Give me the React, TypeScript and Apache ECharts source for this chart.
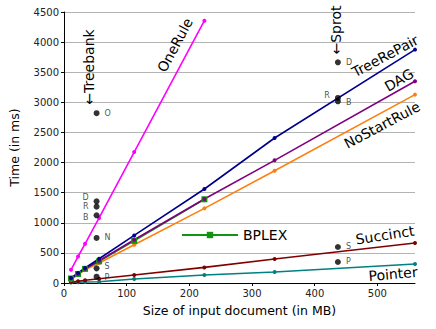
import React, { useEffect, useRef } from "react";
import * as echarts from "echarts";

const sizes = [11.2, 22.4, 33.6, 56, 112, 224, 336, 560];
const oneRule = [220, 440, 650, 1080, 2175, 4355];
const treeRePair = [83, 166, 249, 403, 790, 1561, 2408, 3875];
const dag = [78, 154, 237, 370, 719, 1395, 2037, 3349];
const noStartRule = [55, 138, 220, 332, 636, 1239, 1865, 3128];
const bplex = [75, 150, 235, 360, 700, 1390];
const succinct = [15, 30, 45, 71, 132, 259, 398, 664];
const pointer = [8, 12, 16, 22, 66, 132, 182, 315];

const treebankSize = 52;
const treebankTimes = [2820, 1356, 1268, 1124, 748, 243, 105];
const treebankLabels = ["O", "D", "R", "B", "N", "S", "P"];
const treebankSides = ["right", "left", "left", "left", "right", "right", "right"];
const treebankNudge = [0, -4, 0, 2, 0, -2, 1];

const sprotSize = 437;
const sprotTimes = [3665, 3073, 3017, 598, 349];
const sprotLabels = ["D", "R", "B", "S", "P"];
const sprotSides = ["right", "left", "right", "right", "right"];
const sprotNudge = [0, -2, 1, 0, 0];

const xTicks = [0, 100, 200, 300, 400, 500];

const FONT = "DejaVu Sans";

function pairs(xs: number[], ys: number[]) {
  return ys.map((y, i) => [xs[i], y]);
}

function lineSeries(name: string, values: number[], color: string, symbol = "circle", size = 4) {
  return {
    name,
    type: "line",
    data: pairs(sizes, values),
    symbol,
    symbolSize: size,
    lineStyle: { color, width: 1.6 },
    itemStyle: { color },
    z: 3,
  };
}

function scatterSeries(
  name: string,
  x: number,
  ys: number[],
  labels: string[],
  sides: string[],
  nudge: number[]
) {
  return {
    name,
    type: "scatter",
    symbolSize: 6,
    itemStyle: { color: "#000" },
    z: 5,
    data: ys.map((y, i) => ({
      value: [x, y],
      label: {
        show: true,
        formatter: labels[i],
        position: sides[i],
        distance: 5,
        offset: [0, nudge[i]],
        fontSize: 8,
        lineHeight: 8,
        fontFamily: FONT,
        color: "#222",
      },
    })),
  };
}

export default function App() {
  const ref = useRef<HTMLDivElement>(null);
  useEffect(() => {
    if (!ref.current) return;
    const chart = echarts.init(ref.current, null, { renderer: "svg" });
    const deg = Math.PI / 180;
    const lbl = (text: string, x: number, y: number, angle: number, size = 14) => ({
      type: "text",
      x,
      y,
      rotation: angle * deg,
      style: {
        text,
        fontSize: size,
        fontFamily: FONT,
        fill: "#000",
        align: "center",
        verticalAlign: "middle",
      },
      z: 10,
    });
    chart.setOption({
      animation: false,
      textStyle: { fontFamily: FONT },
      grid: { left: 57, right: 21, top: 12, bottom: 46, containLabel: false },
      legend: {
        data: ["BPLEX"],
        left: 176,
        top: 223,
        itemWidth: 56,
        itemHeight: 8,
        itemGap: 6,
        textStyle: { fontSize: 14, fontFamily: FONT, color: "#000" },
      },
      xAxis: {
        type: "value",
        min: 0,
        max: 560,
        interval: 100,
        name: "Size of input document (in MB)",
        nameLocation: "middle",
        nameGap: 21,
        nameTextStyle: { fontSize: 12.5, fontFamily: FONT, color: "#000" },
        axisLine: { lineStyle: { color: "#000", width: 1 } },
        axisTick: { show: true, length: 3, lineStyle: { color: "#000" }, customValues: xTicks },
        axisLabel: {
          fontSize: 10,
          fontFamily: FONT,
          color: "#222",
          margin: 5,
          customValues: xTicks,
        },
        splitLine: { show: false },
      },
      yAxis: {
        type: "value",
        min: 0,
        max: 4500,
        interval: 500,
        name: "Time (in ms)",
        nameLocation: "middle",
        nameGap: 43,
        nameTextStyle: { fontSize: 12.5, fontFamily: FONT, color: "#000" },
        axisLine: { show: true, lineStyle: { color: "#000", width: 1 } },
        axisTick: { show: true, length: 3, lineStyle: { color: "#000" } },
        axisLabel: {
          fontSize: 10,
          fontFamily: FONT,
          color: "#222",
          margin: 5,
          formatter: (v: number) => String(v),
        },
        splitLine: { show: true, lineStyle: { color: "#b3b3b3", width: 1 } },
      },
      series: [
        lineSeries("Pointer", pointer, "#008080"),
        lineSeries("Succinct", succinct, "#800000"),
        lineSeries("NoStartRule", noStartRule, "#ff7f0e"),
        lineSeries("BPLEX", bplex, "#119411", "rect", 6),
        lineSeries("DAG", dag, "#800080"),
        lineSeries("TreeRePair", treeRePair, "#00008b"),
        lineSeries("OneRule", oneRule, "#ff00ff"),
        scatterSeries("Treebank", treebankSize, treebankTimes, treebankLabels, treebankSides, treebankNudge),
        scatterSeries("Sprot", sprotSize, sprotTimes, sprotLabels, sprotSides, sprotNudge),
      ],
      graphic: [
        lbl("←Treebank", 89, 67, 90),
        lbl("←Sprot", 336, 30, 90),
        lbl("OneRule", 175, 45, 62),
        lbl("TreeRePair", 385, 56, 28),
        lbl("DAG", 399, 80, 30),
        lbl("NoStartRule", 382, 125, 28),
        lbl("Succinct", 385, 235, 9),
        lbl("Pointer", 393, 274, 5),
      ],
    });
    return () => chart.dispose();
  }, []);
  return (
    <div
      ref={ref}
      style={{ position: "fixed", left: 0, top: 0, width: 436, height: 329, background: "#fff" }}
    />
  );
}
